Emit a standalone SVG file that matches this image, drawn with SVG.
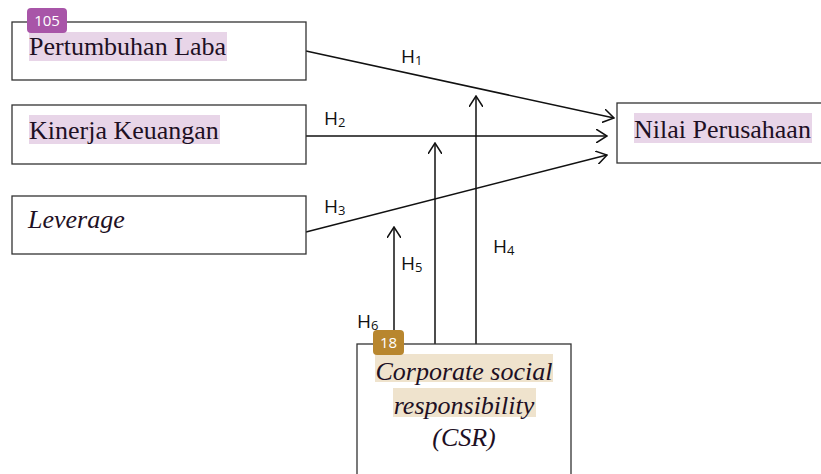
<svg xmlns="http://www.w3.org/2000/svg" width="821" height="474" viewBox="0 0 821 474">
<style>
.box{fill:#fff;stroke:#333;stroke-width:1.3}
.t{font-family:"Liberation Serif",serif;font-size:26px;fill:#1e1024}
.it{font-style:italic}
.hl{fill:#e8d5e8}
.hl2{fill:#efe3cd}
.lab{font-family:"Open Sans","Noto Sans",sans-serif;font-size:19px;fill:#111}
.sub{font-size:13px}
.edge{stroke:#111;stroke-width:1.5;fill:none}
.badgetxt{font-family:"Open Sans","Noto Sans",sans-serif;font-size:15px;fill:#fff}
</style>
<defs>
<marker id="arr" viewBox="0 0 12 14" refX="11" refY="7" markerWidth="12" markerHeight="14" markerUnits="userSpaceOnUse" orient="auto">
<path d="M0,0 L11,7 L0,14" fill="none" stroke="#111" stroke-width="1.5"/>
</marker>
</defs>
<g id="connectors">
<line class="edge" x1="306" y1="51" x2="614" y2="118" marker-end="url(#arr)"/>
<line class="edge" x1="306" y1="136" x2="607" y2="136" marker-end="url(#arr)"/>
<line class="edge" x1="306" y1="232" x2="607" y2="155" marker-end="url(#arr)"/>
<line class="edge" x1="476" y1="344" x2="476" y2="96" marker-end="url(#arr)"/>
<line class="edge" x1="435" y1="344" x2="435" y2="143" marker-end="url(#arr)"/>
<line class="edge" x1="394" y1="344" x2="394" y2="227" marker-end="url(#arr)"/>
<text class="lab" x="401" y="63">H<tspan class="sub" dy="2">1</tspan></text>
<text class="lab" x="324" y="125">H<tspan class="sub" dy="2">2</tspan></text>
<text class="lab" x="324" y="213">H<tspan class="sub" dy="2">3</tspan></text>
<text class="lab" x="493" y="253">H<tspan class="sub" dy="2">4</tspan></text>
<text class="lab" x="401" y="270">H<tspan class="sub" dy="2">5</tspan></text>
<text class="lab" x="357" y="328">H<tspan class="sub" dy="2">6</tspan></text>
</g>
<g id="pertumbuhan">
<rect class="box" x="12" y="22" width="294" height="58"/>
<rect class="hl" x="29" y="32" width="198" height="29"/>
<text class="t" x="29" y="55">Pertumbuhan Laba</text>
<rect x="27" y="8" width="40" height="25" rx="4" fill="#a855a8"/>
<text class="badgetxt" x="47" y="26" text-anchor="middle">105</text>
</g>
<g id="kinerja">
<rect class="box" x="12" y="105" width="294" height="59"/>
<rect class="hl" x="29" y="115" width="191" height="29"/>
<text class="t" x="29" y="139">Kinerja Keuangan</text>
</g>
<g id="leverage">
<rect class="box" x="12" y="196" width="294" height="58"/>
<text class="t it" x="28" y="228">Leverage</text>
</g>
<g id="nilai">
<rect class="box" x="617" y="103" width="210" height="60"/>
<rect class="hl" x="634" y="113" width="178" height="30"/>
<text class="t" x="634" y="138">Nilai Perusahaan</text>
</g>
<g id="csr">
<rect class="box" x="357" y="344" width="214" height="140"/>
<rect class="hl2" x="375" y="354" width="178" height="28"/>
<rect class="hl2" x="393" y="388" width="143" height="29"/>
<text class="t it" x="464" y="380" text-anchor="middle">Corporate social</text>
<text class="t it" x="464" y="414" text-anchor="middle">responsibility</text>
<text class="t it" x="464" y="446" text-anchor="middle">(CSR)</text>
<rect x="373" y="330" width="31" height="25" rx="4" fill="#b8862e"/>
<text class="badgetxt" x="388.5" y="348" text-anchor="middle">18</text>
</g>
</svg>
